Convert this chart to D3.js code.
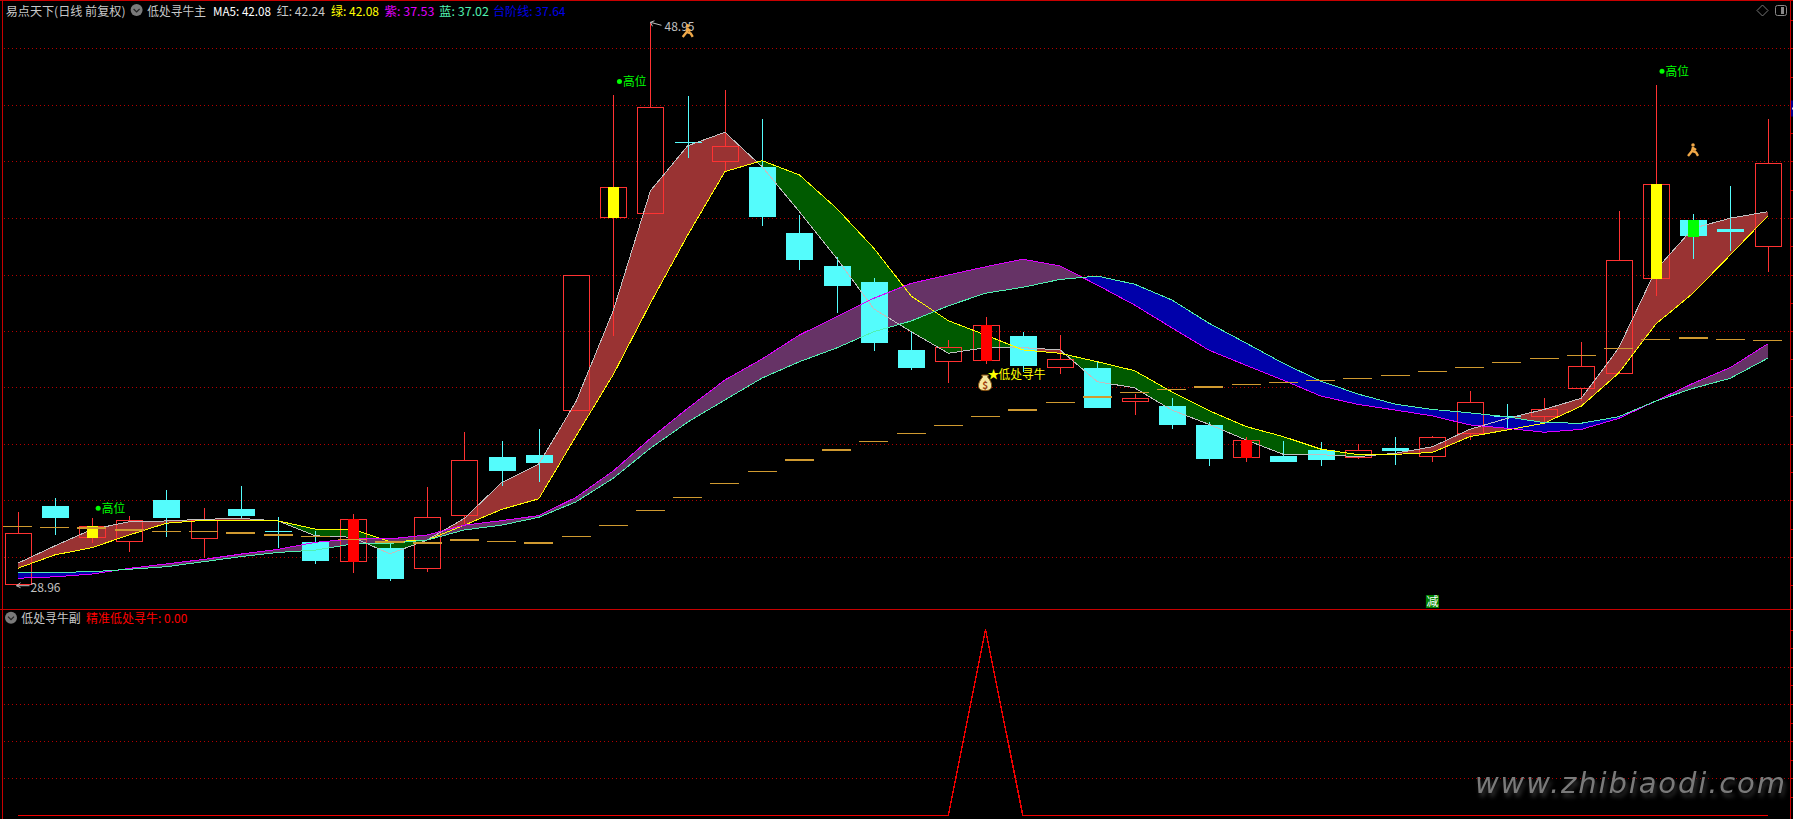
<!DOCTYPE html>
<html><head><meta charset="utf-8">
<script src="https://cdn.jsdelivr.net/npm/d3@7/dist/d3.min.js"></script>
<style>html,body{margin:0;padding:0;background:#000;overflow:hidden}svg{display:block}
text{font-family:"Noto Sans CJK SC","Noto Sans",sans-serif;font-size:12px}</style>
</head><body><svg id="c" width="1793" height="819"></svg>
<script>
const opens=[28.96,31.76,30.67,30.49,31.97,30.63,31.65,30.86,30.48,29.78,30.25,29.53,31.42,33.51,33.58,35.20,42.03,42.18,44.71,44.02,43.83,41.48,40.32,39.74,37.32,36.90,36.94,37.82,36.69,36.68,35.51,35.32,34.65,33.52,33.54,33.76,33.48,33.83,33.55,34.34,34.98,34.94,35.97,36.49,39.89,41.95,41.63,41.00];
const closes=[30.79,31.33,31.05,31.25,31.33,31.26,31.41,30.86,29.81,31.29,29.16,31.36,33.39,33.01,33.29,39.99,43.11,45.96,44.71,44.57,42.05,40.52,39.60,37.57,36.68,37.41,38.20,36.75,36.99,35.25,35.60,34.65,33.43,34.11,33.33,33.40,33.74,33.72,34.21,35.45,34.93,35.20,36.74,40.51,43.22,41.38,41.52,43.96];
const highs=[31.55,32.04,31.32,31.41,32.32,31.68,32.47,31.36,30.86,31.47,30.43,32.44,34.40,34.08,34.50,39.99,46.40,48.95,46.36,46.58,45.54,42.12,40.63,39.88,37.97,37.67,38.48,37.95,37.85,36.90,35.75,35.61,34.74,34.22,34.08,34.04,33.97,34.22,34.25,35.86,35.39,35.61,37.60,42.27,46.75,42.16,43.16,45.54];
const lows=[28.96,30.73,30.43,30.13,30.66,29.90,31.29,30.28,29.70,29.39,29.10,29.41,31.11,32.48,32.62,35.20,37.83,42.18,44.16,43.67,41.73,40.17,38.64,37.28,36.60,36.14,36.82,36.53,36.46,35.25,35.00,34.50,33.19,33.34,33.33,33.19,33.43,33.22,33.33,34.11,34.47,34.71,35.50,36.49,39.24,40.56,40.84,40.09];
const hongLine=[29.72,30.34,30.93,31.20,31.23,31.29,31.32,31.23,30.70,30.65,30.06,30.55,31.32,32.59,33.26,35.48,38.72,42.99,44.59,45.07,43.84,42.24,40.58,38.78,37.97,37.20,37.40,37.40,37.32,36.19,35.97,35.18,34.67,34.11,33.60,33.59,33.52,33.64,33.87,34.49,34.88,35.20,35.60,37.38,40.17,41.65,42.01,42.24];
const lvLine=[29.54,30.02,30.28,30.73,31.15,31.25,31.26,31.23,30.94,30.94,30.49,30.55,31.08,31.64,32.02,34.25,36.44,38.99,41.41,43.67,44.06,43.55,42.36,40.94,39.24,38.36,37.85,37.32,37.20,36.90,36.58,35.83,35.16,34.59,34.23,33.79,33.59,33.60,33.67,34.23,34.47,34.71,35.32,36.49,38.24,39.34,40.70,42.08];
const ziLine=[29.19,29.24,29.34,29.54,29.70,29.86,30.05,30.22,30.47,30.59,30.59,30.73,31.08,31.24,31.42,32.07,33.01,34.17,35.24,36.25,37.00,37.85,38.50,39.16,39.69,39.99,40.28,40.55,40.31,39.63,38.92,38.11,37.31,36.77,36.24,35.68,35.38,35.18,34.97,34.65,34.53,34.39,34.49,34.88,35.50,36.13,36.69,37.53];
const lanLine=[29.40,29.40,29.42,29.51,29.60,29.78,29.96,30.11,30.19,30.41,30.43,30.55,30.91,31.08,31.36,31.91,32.75,33.82,34.75,35.54,36.32,36.90,37.39,37.97,38.35,38.89,39.34,39.55,39.83,39.95,39.66,39.10,38.27,37.56,36.84,36.21,35.75,35.39,35.20,35.08,34.94,34.73,34.71,34.94,35.50,35.95,36.31,37.02];
const stepLine=[31.04,31.00,30.98,30.92,30.86,30.86,30.81,30.74,30.68,30.57,30.48,30.45,30.56,30.50,30.45,30.68,31.07,31.61,32.07,32.57,33.00,33.40,33.77,34.07,34.35,34.64,34.96,35.18,35.44,35.65,35.81,35.92,36.01,36.09,36.17,36.24,36.31,36.42,36.56,36.70,36.88,37.02,37.13,37.38,37.70,37.74,37.70,37.64];
const stepHeavy=[2,3,6,7,10,11,12,14,21,22,27,29,32,45];
const subValues=[0,0,0,0,0,0,0,0,0,0,0,0,0,0,0,0,0,0,0,0,0,0,0,0,0,0,1,0,0,0,0,0,0,0,0,0,0,0,0,0,0,0,0,0,0,0,0,0];
const innerIdx=[2,9,16,26,33,44,45];
const innerKind=["yellow","red","yellow","red","red","yellow","lime"];
const gaoIdx=[2,16,44];
const gaoVal=[31.68,46.88,47.24];
const runnerIdx=[18,45];
const runnerVal=[48.68,44.44];
const gridVals=[48.06,46.05,44.04,42.03,40.00,38.00,35.99,33.98,31.96,29.96];
const axisVals=[49.06,48.06,47.05,46.05,45.05,44.04,43.03,42.03,41.01,40.00,39.00,38.00,37.00,35.99,34.98,33.98,32.97,31.96,30.96,29.96,28.96];
const subGrid=[0.2,0.4,0.6,0.8];
const subAxis=[0.1,0.2,0.3,0.4,0.5,0.6,0.7,0.8,0.9,1];
const legendMain=[["易点天下(日线 前复权)","#c8c8c8"],["低处寻牛主","#c8c8c8"],["MA5: 42.08","#ffffff"],["红: 42.24","#c8c8c8"],["绿: 42.08","#ffff00"],["紫: 37.53","#e000ff"],["蓝: 37.02","#50f0b0"],["台阶线: 37.64","#0000e8"]];
const legendSpans=[[5.7,125.5],[147.3,205.9],[213,271],[276.7,325],[331,379],[384.6,434.4],[439,489],[493,565.6]];

const svg=d3.select("#c");
const N=opens.length;
const x=d3.scaleLinear().domain([0,N-1]).range([17.5,1767.5]);
const y=d3.scaleLinear().domain([28.96,48.95]).range([584.7,23.3]);
const ys=d3.scaleLinear().domain([0,1]).range([815.5,629.5]);
const RED="#ff3232",CYAN="#54fcfc";
const R=v=>Math.round(v)+.5;

svg.append("rect").attr("width",1793).attr("height",819).attr("fill","#000");

function grid(scale,vals){
  const g=svg.append("g").attr("transform","translate(4,0)").call(d3.axisLeft(scale).tickValues(vals).tickSize(-1786).tickFormat(""));
  g.select(".domain").remove();
  g.selectAll("line").attr("stroke","#b40000").attr("stroke-dasharray","1,3").attr("shape-rendering","crispEdges");
}
grid(y,gridVals);grid(ys,subGrid);

function band(a,b,posColor,negColor){
  const segs=[];
  let cur=[{i:0,a:a[0],b:b[0]}],sign=Math.sign(a[0]-b[0]);
  for(let i=1;i<N;i++){
    const d0=a[i-1]-b[i-1],d1=a[i]-b[i],s=Math.sign(d1);
    if(sign!==0&&s!==0&&s!==sign){
      if(d0!==0){
        const t=d0/(d0-d1),v=a[i-1]+t*(a[i]-a[i-1]),p={i:i-1+t,a:v,b:v};
        cur.push(p);segs.push({pts:cur,pos:sign>0});cur=[p];
      }else{
        segs.push({pts:cur,pos:sign>0});cur=[{i:i-1,a:a[i-1],b:b[i-1]}];
      }
    }
    if(s!==0)sign=s;
    cur.push({i,a:a[i],b:b[i]});
  }
  segs.push({pts:cur,pos:sign>0});
  const area=d3.area().x(d=>x(d.i)).y0(d=>y(d.a)).y1(d=>y(d.b));
  svg.append("g").selectAll("path").data(segs).join("path")
    .attr("d",d=>area(d.pts)).attr("fill",d=>d.pos?posColor:negColor).attr("shape-rendering","crispEdges");
}
band(hongLine,lvLine,"#993333","#005a00");
band(ziLine,lanLine,"#663366","#0000aa");

const candles=d3.range(N);
const cg=svg.append("g").attr("shape-rendering","crispEdges");
candles.forEach(i=>{
  const up=closes[i]>opens[i];
  const top=y(Math.max(opens[i],closes[i])),bot=y(Math.min(opens[i],closes[i]));
  const cx=R(x(i)),col=up?RED:CYAN;
  const hi=y(highs[i]),lo=y(lows[i]);
  if(hi<top)cg.append("line").attr("x1",cx).attr("x2",cx).attr("y1",hi).attr("y2",top).attr("stroke",col);
  if(lo>bot)cg.append("line").attr("x1",cx).attr("x2",cx).attr("y1",bot).attr("y2",lo).attr("stroke",col);
  if(up){
    cg.append("rect").attr("x",cx-13).attr("y",R(top)).attr("width",26).attr("height",Math.max(1,Math.round(bot-top))).attr("fill","none").attr("stroke",RED);
  }else if(bot-top<1){
    cg.append("line").attr("x1",cx-13.5).attr("x2",cx+13.5).attr("y1",R(top)).attr("y2",R(top)).attr("stroke",CYAN);
  }else{
    cg.append("rect").attr("x",cx-13.5).attr("y",Math.round(top)).attr("width",27).attr("height",Math.round(bot-top)).attr("fill",CYAN);
  }
});

function poly(vals,color){
  svg.append("path").attr("d",d3.line().x((d,i)=>x(i)).y(d=>y(d))(vals))
    .attr("fill","none").attr("stroke",color).attr("stroke-width",1).attr("shape-rendering","crispEdges");
}
poly(hongLine,"#c0c0c0");poly(lvLine,"#ffff00");poly(ziLine,"#dd00ff");poly(lanLine,"#50f0b0");

innerIdx.forEach((i,k)=>{
  const top=y(Math.max(opens[i],closes[i])),bot=y(Math.min(opens[i],closes[i]));
  svg.append("rect").attr("x",R(x(i))-5.5).attr("y",Math.round(top)).attr("width",11).attr("height",Math.round(bot-top)+1)
    .attr("fill",innerKind[k]).attr("shape-rendering","crispEdges");
});

svg.append("g").selectAll("line").data(stepLine).join("line")
  .attr("x1",(d,i)=>x(i)-14.5).attr("x2",(d,i)=>x(i)+14.5)
  .attr("y1",d=>y(d)).attr("y2",d=>y(d))
  .attr("stroke","#d09a30").attr("stroke-width",(d,i)=>stepHeavy.includes(i)?2:1).attr("shape-rendering","crispEdges");

// sub panel
svg.append("path").attr("d",d3.line().x((d,i)=>x(i)).y(d=>ys(d))(subValues))
  .attr("fill","none").attr("stroke","#f00000").attr("stroke-width",1.4).attr("shape-rendering","crispEdges");

// frame
const frame=svg.append("g").attr("shape-rendering","crispEdges").attr("stroke","#c80000");
frame.append("line").attr("x1",0).attr("x2",1793).attr("y1",.5).attr("y2",.5);
frame.append("line").attr("x1",0).attr("x2",1793).attr("y1",609.5).attr("y2",609.5);
frame.append("line").attr("x1",2.5).attr("x2",2.5).attr("y1",0).attr("y2",819);
frame.append("line").attr("x1",1790.5).attr("x2",1790.5).attr("y1",0).attr("y2",819);
function rightAxis(scale,vals){
  const g=svg.append("g").attr("transform","translate(1790,0)").call(d3.axisRight(scale).tickValues(vals).tickSize(3).tickFormat(""));
  g.select(".domain").remove();
  g.selectAll("line").attr("stroke","#c80000").attr("shape-rendering","crispEdges");
}
rightAxis(y,axisVals);rightAxis(ys,subAxis);
svg.append("rect").attr("x",1791).attr("y",y(46.2)).attr("width",2).attr("height",16).attr("fill","#000090");
svg.append("rect").attr("x",1792).attr("y",y(46.2)+7).attr("width",1).attr("height",2).attr("fill","#ddd");

function label(x0,x1,base,txt,color){
  return svg.append("text").attr("x",x0).attr("y",base).attr("fill",color).text(txt)
    .attr("textLength",x1-x0).attr("lengthAdjust","spacingAndGlyphs");
}
legendMain.forEach((d,i)=>label(legendSpans[i][0],legendSpans[i][1],15.5,d[0],d[1]));

function chevIcon(cx,cy){
  svg.append("circle").attr("cx",cx).attr("cy",cy).attr("r",6).attr("fill","#7a7a7a");
  svg.append("path").attr("d",`M${cx-3},${cy-1}L${cx},${cy+2}L${cx+3},${cy-1}`).attr("fill","none").attr("stroke","#222").attr("stroke-width",1.2);
}
chevIcon(136.6,10);chevIcon(11,617.7);
label(21.3,80.7,622.5,"低处寻牛副","#c8c8c8");
label(86,187.3,622.5,"精准低处寻牛: 0.00","#ff0000");

// top-right icons
svg.append("path").attr("d","M1762.5,5L1768,10.5L1762.5,16L1757,10.5Z").attr("fill","none").attr("stroke","#777");
svg.append("rect").attr("x",1775.5).attr("y",5.5).attr("width",11).attr("height",10).attr("rx",2).attr("fill","none").attr("stroke","#888");
svg.append("rect").attr("x",1781).attr("y",7).attr("width",3).attr("height",7).attr("fill","#888");

// high / low tags
function arrow(x0,y0,x1,y1){
  svg.append("path").attr("d",`M${x1},${y1}L${x0},${y0}M${x0+4},${y0-1.5}L${x0},${y0}L${x0+2},${y0+4}`).attr("fill","none").attr("stroke","#c0c0c0");
}
const hiX=x(d3.range(N).find(i=>highs[i]===d3.max(highs))),loX=x(d3.range(N).find(i=>lows[i]===d3.min(lows)));
arrow(hiX,y(d3.max(highs))-1,hiX+11,y(d3.max(highs))+2);
label(hiX+14,hiX+44,y(d3.max(highs))+8,"48.95","#c0c0c0");
svg.append("path").attr("d",`M${loX+12},${y(28.96)+1}L${loX-1},${y(28.96)+1}M${loX+3},${y(28.96)-2}L${loX-1},${y(28.96)+1}L${loX+3},${y(28.96)+3}`).attr("fill","none").attr("stroke","#c0c0c0");
label(loX+13,loX+43,y(28.96)+7.5,"28.96","#c0c0c0");

// 高位
gaoIdx.forEach((i,k)=>{
  const cx=x(i)+6.2,cy=y(gaoVal[k]);
  svg.append("circle").attr("cx",cx).attr("cy",cy).attr("r",2.5).attr("fill","#00ff00");
  label(cx+3.5,cx+27,cy+5,"高位","#00ff00");
});

// runners
runnerIdx.forEach((i,k)=>{
  const g=svg.append("g").attr("transform",`translate(${x(i)},${y(runnerVal[k])})`).attr("stroke","#f0a848").attr("fill","none").attr("stroke-width",2.4);
  g.append("circle").attr("cx",0).attr("cy",-5).attr("r",1.8).attr("fill","#f0a848").attr("stroke","none");
  g.append("path").attr("d","M0,-3L-1,1L-5,6M-1,1L3,2.5L5,6M0,-2L3,0");
});

// buy signal
const sigX=x(26),sigY=y(36.46);
svg.append("text").attr("x",sigX+2).attr("y",sigY+4.5).attr("fill","#ffff00").text("★").style("font-size","12px");
label(sigX+13,sigX+60,sigY+5,"低处寻牛","#ffff00");
const bag=svg.append("g").attr("transform",`translate(${sigX-0.5},${y(36.14)})`);
bag.append("path").attr("d","M-2.5,-6L-3.5,-8L3.5,-8L2.5,-6C5,-3 7,0 6.5,3.5C6,7 3,7.5 0,7.5C-3,7.5 -6,7 -6.5,3.5C-7,0 -5,-3 -2.5,-6Z").attr("fill","#f5e6a0").attr("stroke","#8a5410").attr("stroke-width",1);
bag.append("text").attr("text-anchor","middle").attr("y",5.5).attr("fill","#a04010").text("$").style("font-size","10px").style("font-weight","700");

// 减
const jianX=x(38);
svg.append("rect").attr("x",jianX-6.5).attr("y",595).attr("width",13).attr("height",13).attr("fill","#008000");
svg.append("text").attr("x",jianX).attr("y",606).attr("text-anchor","middle").attr("fill","#fff").text("减").style("font-size","12px");

// watermark
svg.append("text").attr("x",1475).attr("y",793).attr("fill","#7a7a7a").text("www.zhibiaodi.com")
  .attr("textLength",310).attr("lengthAdjust","spacing").style("font-family","DejaVu Sans").style("font-style","oblique").style("font-size","29px").style("filter","drop-shadow(2px 4px 2px #333)");
</script></body></html>
